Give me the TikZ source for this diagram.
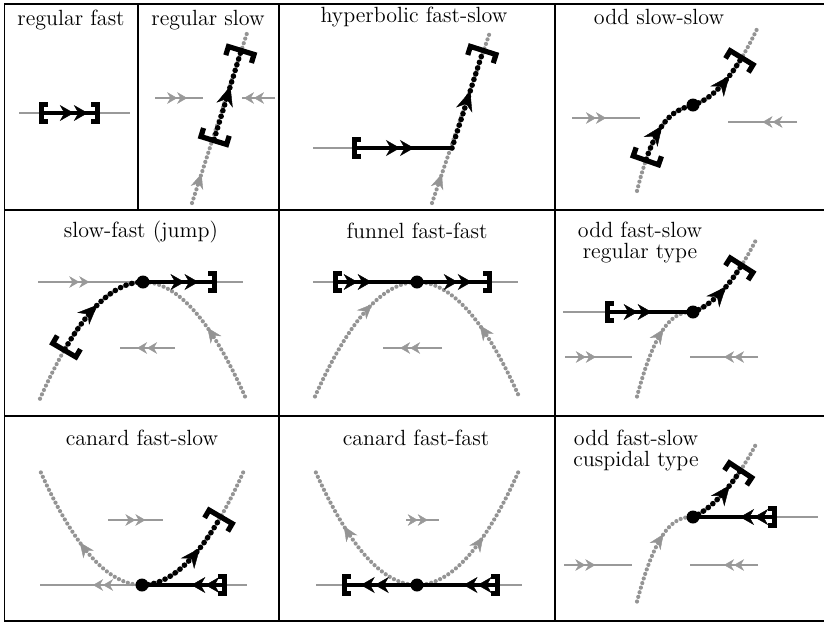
\documentclass[tikz,border=0pt]{standalone}
\usepackage{tikz}
\usetikzlibrary{arrows.meta, decorations.markings}

\begin{document}
\begin{tikzpicture}[x=0.5pt, y=-0.5pt,
    grid/.style={line width=0.9pt},
    title/.style={font=\fontsize{11}{10.5}\selectfont, align=center, anchor=base, inner sep=0pt},
    fastline/.style={black!40, line width=1pt},
    slowline/.style={black!42, line width=2.1pt, dash pattern=on 0pt off 2.4pt, line cap=round},
    fastpath/.style={line width=1.6pt},
    slowpath/.style={line width=2.8pt, dash pattern=on 0pt off 3pt, line cap=round},
    fold/.style={circle, fill, inner sep=0pt, minimum size=6.5pt},
    BrkF/.tip={Bracket[width=11pt, length=3.2pt, line width=2.3pt]},
    BrkS/.tip={Bracket[width=16pt, length=4.5pt, line width=2.6pt]},
    dbl/.style={postaction={decorate, decoration={markings, mark=at position #1 with {\arrow{Stealth[length=7pt, width=8pt, line width=0.2pt]Stealth[length=7pt, width=8pt, line width=0.2pt]}}}}},
    dblg/.style={postaction={decorate, decoration={markings, mark=at position #1 with {\arrow{Stealth[length=5pt, width=5.8pt, line width=0.2pt]Stealth[length=5pt, width=5.8pt, line width=0.2pt]}}}}},
    sgl/.style={postaction={decorate, decoration={markings, mark=at position #1 with {\arrow{Stealth[length=10pt, width=8.5pt, line width=0.2pt]}}}}},
    sglg/.style={postaction={decorate, decoration={markings, mark=at position #1 with {\arrow{Stealth[length=7.5pt, width=6.5pt, line width=0.2pt]}}}}}]
    \useasboundingbox (0,0) rectangle (824,623);

    % table frame
    \draw[grid] (824,4) -- (4.5,4) -- (4.5,621) -- (824,621);
    \draw[grid] (4.5,210) -- (824,210) (4.5,416) -- (824,416);
    \draw[grid] (138,4) -- (138,210) (279,4) -- (279,621) (555,4) -- (555,621);

    % regular fast
    \node[title] (t1) at (71,25) {regular fast};
    \draw[fastline] (19,113) -- (130,113);
    \draw[fastpath, BrkF-BrkF, dbl=0.8] (39,113) -- (100,113);

    % regular slow
    \node[title] (t2) at (208,25) {regular slow};
    \draw[fastline, dblg=0.67] (155,98) -- (203,98);
    \draw[fastline, dblg=0.94] (275,98) -- (242,98);
    \draw[slowline, sglg=0.17] (192,203) -- (248,30);
    \draw[slowpath, BrkS-BrkS, sgl=0.6] (213,143) -- (242,48);

    % hyperbolic fast-slow
    \node[title] (t3) at (414,22) {hyperbolic fast-slow};
    \coordinate (a3) at (452,148);
    \draw[fastline] (313,148) -- (a3);
    \draw[slowline, sglg=0.17] (432,203) -- (490,32);
    \draw[fastpath, BrkF-, dbl=0.62] (352,148) -- (a3);
    \draw[slowpath, -BrkS, sgl=0.57] (a3) -- (484,48);

    % odd slow-slow
    \node[title] (t4) at (659,24) {odd slow-slow};
    \coordinate (a4) at (693,105);
    \draw[fastline, dblg=0.5] (572,118) -- (640,118);
    \draw[fastline, dblg=0.5] (797,122) -- (728,122);
    \begin{scope}[shift={(a4)}]
        \draw[slowline] plot[domain=-56:0, samples=30] (\x,{-0.29*\x-((0.00039*\x)*\x)*\x});
        \draw[slowline] plot[domain=0:65, samples=30] (\x,{-0.29*\x-(0.014*\x)*\x});
        \draw[slowpath, BrkS-, sgl=0.52] plot[domain=-48:0, samples=16] (\x,{-0.29*\x-((0.00039*\x)*\x)*\x});
        \draw[slowpath, -BrkS, sgl=0.66] plot[domain=0:50, samples=16] (\x,{-0.29*\x-(0.014*\x)*\x});
    \end{scope}
    \node[fold] (f4) at (a4) {};

    % slow-fast (jump)
    \node[title] (t5) at (141,237) {slow-fast (jump)};
    \coordinate (a5) at (143,282);
    \draw[fastline, dblg=0.25] (38,282) -- (243,282);
    \draw[fastline, dblg=0.69] (175,348) -- (120,348);
    \begin{scope}[shift={(a5)}]
        \draw[slowline] plot[domain=-103:0, samples=40] (\x,{(0.011*\x)*\x});
        \draw[slowline, sglg=0.49] plot[domain=-102:0, samples=40] ({-\x},{(0.011*\x)*\x});
        \draw[slowpath, BrkS-, sgl=0.53] plot[domain=-80:0, samples=20] (\x,{(0.011*\x)*\x});
    \end{scope}
    \draw[fastpath, -BrkF, dbl=0.75] (a5) -- (217,282);
    \node[fold] (f5) at (a5) {};

    % funnel fast-fast
    \node[title] (t6) at (417,238) {funnel fast-fast};
    \coordinate (a6) at (417,282);
    \draw[fastline] (313,282) -- (518,282);
    \draw[fastline, dblg=0.71] (442,348) -- (383,348);
    \begin{scope}[shift={(a6)}]
        \draw[slowline, sglg=0.68] plot[domain=-102:0, samples=40] (\x,{(0.011*\x)*\x});
        \draw[slowline, sglg=0.5] plot[domain=-101:0, samples=40] ({-\x},{(0.011*\x)*\x});
    \end{scope}
    \draw[fastpath, BrkF-, dbl=0.46] (333,282) -- (a6);
    \draw[fastpath, -BrkF, dbl=0.73] (a6) -- (492,282);
    \node[fold] (f6) at (a6) {};

    % odd fast-slow, regular type
    \node[title] (t7) at (640,258) {odd fast-slow\\regular type};
    \coordinate (a7) at (693,312);
    \draw[fastline] (563,312) -- (a7);
    \draw[fastline, dblg=0.46] (565,357) -- (632,357);
    \draw[fastline, dblg=0.5] (758,357) -- (690,357);
    \begin{scope}[shift={(a7)}]
        \draw[slowline, sglg=0.67] plot[domain=-56:0, samples=30] (\x,{((0.0036*\x)*\x)*sqrt(abs(\x))});
        \draw[slowline] plot[domain=0:64, samples=30] (\x,{-0.35*\x-(0.0126*\x)*\x});
        \draw[slowpath, -BrkS, sgl=0.59] plot[domain=0:50, samples=16] (\x,{-0.35*\x-(0.0126*\x)*\x});
    \end{scope}
    \draw[fastpath, BrkF-, dbl=0.53] (605,312) -- (a7);
    \node[fold] (f7) at (a7) {};

    % canard fast-slow
    \node[title] (t8) at (142,445) {canard fast-slow};
    \coordinate (a8) at (142,585);
    \draw[fastline, dblg=0.48] (a8) -- (40,585);
    \draw[fastline] (a8) -- (247,585);
    \draw[fastline, dblg=0.68] (108,520) -- (163,520);
    \begin{scope}[shift={(a8)}]
        \draw[slowline, sglg=0.48] plot[domain=0:103, samples=40] ({-\x},{-(0.011*\x)*\x});
        \draw[slowline] plot[domain=0:103, samples=40] (\x,{-(0.011*\x)*\x});
        \draw[slowpath, -BrkS, sgl=0.64] plot[domain=0:80, samples=20] (\x,{-(0.011*\x)*\x});
    \end{scope}
    \draw[fastpath, BrkF-, dbl=0.42] (227,585) -- (a8);
    \node[fold] (f8) at (a8) {};

    % canard fast-fast
    \node[title] (t9) at (416,445) {canard fast-fast};
    \coordinate (a9) at (417,585);
    \draw[fastline] (316,585) -- (522,585);
    \draw[fastline, dblg=0.66] (406,520) -- (439,520);
    \begin{scope}[shift={(a9)}]
        \draw[slowline, sglg=0.61] plot[domain=0:102, samples=40] ({-\x},{-(0.011*\x)*\x});
        \draw[slowline, sglg=0.53] plot[domain=0:102, samples=40] (\x,{-(0.011*\x)*\x});
    \end{scope}
    \draw[fastpath, -BrkF, dbl=0.75] (a9) -- (342,585);
    \draw[fastpath, BrkF-, dbl=0.44] (500,585) -- (a9);
    \node[fold] (f9) at (a9) {};

    % odd fast-slow, cuspidal type
    \node[title] (t10) at (636,466) {odd fast-slow\\cuspidal type};
    \coordinate (a10) at (693,517);
    \draw[fastline] (a10) -- (818,517);
    \draw[fastline, dblg=0.46] (564,565) -- (632,565);
    \draw[fastline, dblg=0.5] (758,565) -- (690,565);
    \begin{scope}[shift={(a10)}]
        \draw[slowline, sglg=0.67] plot[domain=-56:0, samples=30] (\x,{((0.0036*\x)*\x)*sqrt(abs(\x))});
        \draw[slowline] plot[domain=0:64, samples=30] (\x,{-0.45*\x-(0.0112*\x)*\x});
        \draw[slowpath, -BrkS, sgl=0.7] plot[domain=0:49, samples=16] (\x,{-0.45*\x-(0.0112*\x)*\x});
    \end{scope}
    \draw[fastpath, BrkF-, dbl=0.44] (777,517) -- (a10);
    \node[fold] (f10) at (a10) {};
\end{tikzpicture}
\end{document}
